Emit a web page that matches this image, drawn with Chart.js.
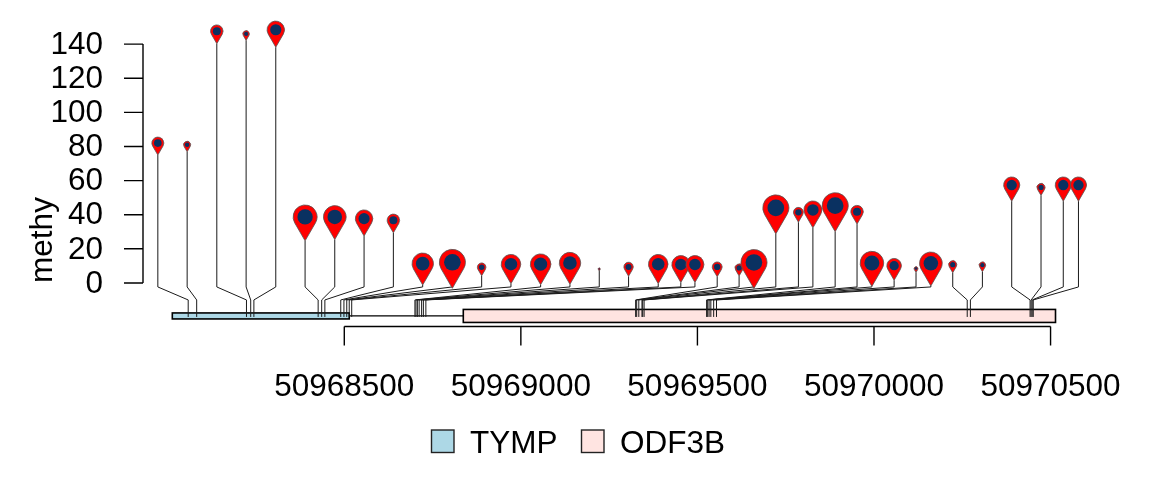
<!DOCTYPE html>
<html>
<head>
<meta charset="utf-8">
<script src="https://cdn.jsdelivr.net/npm/chart.js@4.4.1/dist/chart.umd.min.js"></script>
<style>html,body{margin:0;padding:0;background:#fff}</style>
</head>
<body>
<canvas id="c" width="1152" height="480"></canvas>
<script>
// methylation sites (genomic position), score and dot weight
var sites = [50968058, 50968082, 50968223, 50968235, 50968244, 50968426, 50968436, 50968445,
  50968490, 50968499, 50968507, 50968514, 50968521,
  50968700, 50968703, 50968707, 50968712, 50968719, 50968724, 50968731,
  50969325, 50969328, 50969334, 50969343, 50969345, 50969349,
  50969526, 50969529, 50969533, 50969538, 50969546, 50969554,
  50970264, 50970273, 50970442, 50970445, 50970448, 50970451];
// where the lollipop heads end up after spreading (genomic units)
var labelPos = [50967972, 50968055, 50968139, 50968222, 50968306, 50968389, 50968473, 50968556,
  50968639, 50968722, 50968806, 50968889, 50968972, 50969056, 50969139, 50969222,
  50969305, 50969389, 50969453, 50969493, 50969556, 50969618, 50969660, 50969722,
  50969786, 50969827, 50969890, 50969952, 50969994, 50970057, 50970119, 50970161,
  50970223, 50970307, 50970390, 50970473, 50970536, 50970579];
var methy = [82, 81, 147.6, 146, 148.4, 38.7, 38.7, 37.7, 36.7, 11.3, 12.1, 9.2, 11, 11, 11.7, 8.2,
  9.4, 11, 10.8, 10.8, 9.4, 8.8, 12, 44, 41.4, 42.8, 45.3, 41.8, 11.7, 10.1, 8.4, 11.5,
  10.7, 10.4, 57.4, 56, 57.4, 57.4];
var weight = [4.6, 2.7, 4.8, 2.5, 6.7, 9.2, 8.7, 6.7, 4.8, 8.2, 10, 3.3, 7.5, 7.9, 8.2, 0.8,
  3.6, 7.5, 6.9, 6.9, 3.8, 3.1, 10, 10, 3.8, 6.9, 10, 4.8, 9, 5.6, 1.5, 8.7,
  3.1, 2.5, 6.2, 3.1, 6.2, 6.2];

var genes = ['TYMP', 'ODF3B'];
var geneStart = [50968013, 50968837];
var geneEnd = [50968514, 50970514];

var xTicks = [50968500, 50969000, 50969500, 50970000, 50970500];
var yTicks = [0, 20, 40, 60, 80, 100, 120, 140];

var FONT = '31.5px "Liberation Sans", Arial, Helvetica, sans-serif';
var geneFill = ['#ADD8E6', '#FFE4E1'];
var geneHalf = [3, 6.5];

function drawPin(ctx, x, y, r) {
  ctx.beginPath();
  ctx.moveTo(x, y + 2 * r);
  ctx.lineTo(x + r * Math.cos(5 * Math.PI / 6), y + r * Math.sin(5 * Math.PI / 6));
  ctx.arc(x, y, r, 5 * Math.PI / 6, Math.PI / 6, false);
  ctx.closePath();
  ctx.fillStyle = '#FF0000';
  ctx.fill();
  ctx.lineWidth = 0.8;
  ctx.strokeStyle = '#555555';
  ctx.stroke();
  ctx.beginPath();
  ctx.arc(x, y, r * 0.64, 0, Math.PI * 2);
  ctx.fillStyle = '#0A3161';
  ctx.fill();
}

var track = {
  id: 'track',
  beforeDatasetsDraw: function (chart) {
    var ctx = chart.ctx, xs = chart.scales.x, ys = chart.scales.y;
    var y0 = ys.getPixelForValue(0);
    var gy = y0 + 33;
    ctx.save();
    ctx.lineCap = 'butt';

    // y axis
    var ax = xs.left;
    ctx.strokeStyle = '#000';
    ctx.lineWidth = 1.4;
    ctx.beginPath();
    ctx.moveTo(ax, ys.getPixelForValue(yTicks[0]));
    ctx.lineTo(ax, ys.getPixelForValue(yTicks[yTicks.length - 1]));
    yTicks.forEach(function (t) {
      var py = ys.getPixelForValue(t);
      ctx.moveTo(ax - 19, py);
      ctx.lineTo(ax, py);
    });
    ctx.stroke();
    ctx.font = FONT;
    ctx.fillStyle = '#000';
    ctx.textAlign = 'right';
    ctx.textBaseline = 'middle';
    yTicks.forEach(function (t) {
      ctx.fillText(String(t), ax - 40, ys.getPixelForValue(t) + 1);
    });
    ctx.save();
    ctx.translate(52, 240);
    ctx.rotate(-Math.PI / 2);
    ctx.textAlign = 'center';
    ctx.textBaseline = 'alphabetic';
    ctx.fillText('methy', 0, 0);
    ctx.restore();

    // gene backbone and boxes
    ctx.lineWidth = 1.2;
    ctx.beginPath();
    ctx.moveTo(xs.getPixelForValue(geneStart[0]), gy);
    ctx.lineTo(xs.getPixelForValue(geneEnd[geneEnd.length - 1]), gy);
    ctx.stroke();
    ctx.lineWidth = 1.6;
    genes.forEach(function (g, i) {
      var x1 = xs.getPixelForValue(geneStart[i]), x2 = xs.getPixelForValue(geneEnd[i]);
      ctx.fillStyle = geneFill[i];
      ctx.fillRect(x1, gy - geneHalf[i], x2 - x1, geneHalf[i] * 2);
      ctx.strokeRect(x1, gy - geneHalf[i], x2 - x1, geneHalf[i] * 2);
    });

    // x axis
    var axY = y0 + 43.5;
    ctx.lineWidth = 1.4;
    ctx.beginPath();
    ctx.moveTo(xs.getPixelForValue(xTicks[0]), axY);
    ctx.lineTo(xs.getPixelForValue(xTicks[xTicks.length - 1]), axY);
    xTicks.forEach(function (t) {
      var px = xs.getPixelForValue(t);
      ctx.moveTo(px, axY);
      ctx.lineTo(px, axY + 19);
    });
    ctx.stroke();
    ctx.fillStyle = '#000';
    ctx.textAlign = 'center';
    ctx.textBaseline = 'alphabetic';
    xTicks.forEach(function (t) {
      ctx.fillText(String(t), xs.getPixelForValue(t), y0 + 113);
    });

    // stems and connectors
    ctx.strokeStyle = '#1a1a1a';
    ctx.lineWidth = 1;
    sites.forEach(function (s, i) {
      var sx = xs.getPixelForValue(labelPos[i]);
      var gx = xs.getPixelForValue(s);
      var top = ys.getPixelForValue(methy[i]) + 2 * weight[i] * 1.3;
      ctx.beginPath();
      ctx.moveTo(sx, Math.min(top, y0 + 4));
      ctx.lineTo(sx, y0 + 4);
      ctx.lineTo(gx, y0 + 17);
      ctx.lineTo(gx, y0 + 34);
      ctx.stroke();
    });

    // legend
    ctx.font = FONT;
    ctx.textAlign = 'left';
    var lx = [431.5, 581.5];
    genes.forEach(function (g, i) {
      ctx.fillStyle = geneFill[i];
      ctx.fillRect(lx[i], 430, 22.5, 22.5);
      ctx.lineWidth = 1.4;
      ctx.strokeStyle = '#222';
      ctx.strokeRect(lx[i], 430, 22.5, 22.5);
      ctx.fillStyle = '#000';
      ctx.fillText(g, lx[i] + 38.5, 452.5);
    });
    ctx.restore();
  },
  afterDatasetsDraw: function (chart) {
    var ctx = chart.ctx;
    var meta = chart.getDatasetMeta(0);
    ctx.save();
    meta.data.forEach(function (el, i) {
      drawPin(ctx, el.x, el.y, weight[i] * 1.3);
    });
    ctx.restore();
  }
};

new Chart(document.getElementById('c').getContext('2d'), {
  type: 'scatter',
  data: {
    datasets: [{
      label: 'methy',
      data: labelPos.map(function (p, i) { return { x: p, y: methy[i] }; }),
      pointRadius: 0,
      pointHoverRadius: 0,
      showLine: false
    }]
  },
  options: {
    responsive: false,
    animation: false,
    devicePixelRatio: 1,
    layout: { padding: { left: 143, right: 52, top: 10, bottom: 180 } },
    plugins: { legend: { display: false }, tooltip: { enabled: false } },
    scales: {
      x: { type: 'linear', min: 50967930, max: 50970640, display: false },
      y: { type: 'linear', min: -10, max: 160, display: false }
    }
  },
  plugins: [track]
});
</script>
</body>
</html>
